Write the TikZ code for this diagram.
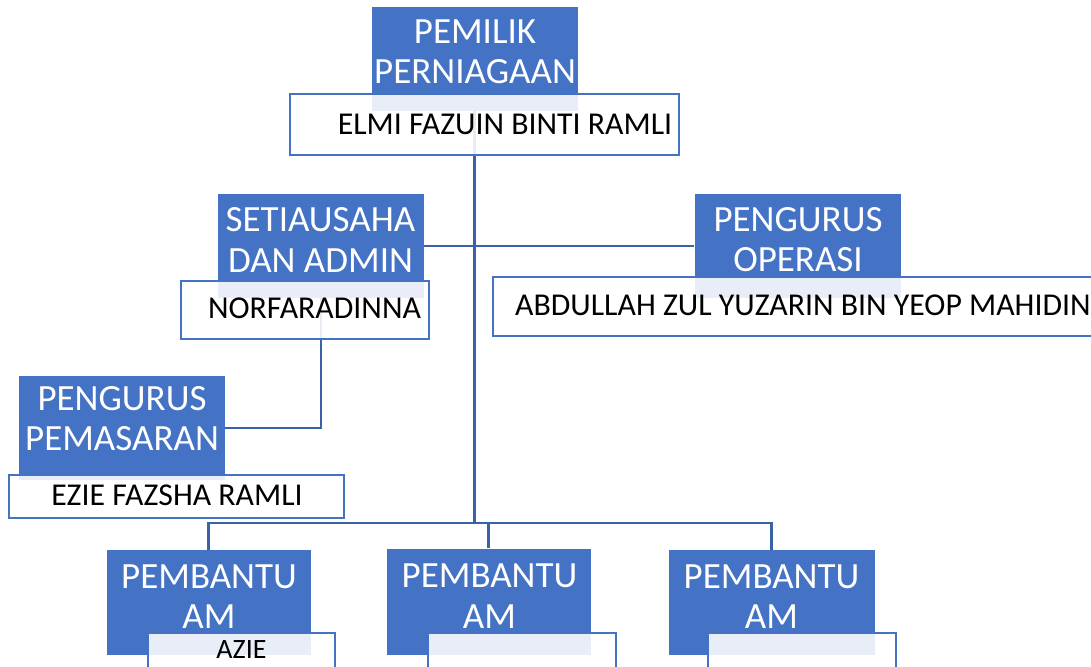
\documentclass[tikz,border=0pt]{standalone}
\usepackage{fontspec}
\setmainfont{Carlito}
\definecolor{acc}{HTML}{4472C4}
\definecolor{lin}{HTML}{3A62A6}
\tikzset{
  bluebox/.style={fill=acc, draw=none, inner sep=0pt, minimum width=206pt, minimum height=104pt},
  namebox/.style={fill=white, fill opacity=0.88, draw=acc, line width=2pt, inner sep=0pt},
  conn/.style={draw=lin, line width=2.8pt},
  titletext/.style={text=white, align=center, inner sep=0pt, font=\fontsize{37}{40.5}\selectfont},
  nametext/.style={text=black, inner sep=0pt, anchor=base, font=\fontsize{31.8}{36}\selectfont},
}
\begin{document}
\begin{tikzpicture}[x=1pt,y=-1pt]
\useasboundingbox (0,0) rectangle (1091,666);
\clip (0,0) rectangle (1091,666);
\fill[white] (0,0) rectangle (1091,666);

% blue title boxes
\node[bluebox] (pemilik) at (474.5,59) {};
\node[bluebox] (setia) at (321,246) {};
\node[bluebox] (operasi) at (797.5,246) {};
\node[bluebox] (pemasaran) at (122,428) {};
\node[bluebox, minimum width=204pt, minimum height=105pt] (p1) at (208.5,602.5) {};
\node[bluebox, minimum width=204pt, minimum height=106pt] (p2) at (488.5,601.5) {};
\node[bluebox, minimum width=206pt, minimum height=105pt] (p3) at (771.5,602.5) {};

% connectors
\coordinate (busy) at (0,523);
\draw[conn] (pemilik.south) -- (pemilik.south |- busy);
\draw[conn] (setia.east) -- (operasi.west);
\draw[conn] (setia.south) -- (setia.south |- pemasaran.east) -- (pemasaran.east);
\draw[conn] (p1.north) -- (p1.north |- busy) -- (p3.north |- busy) -- (p3.north);
\draw[conn] (p2.north) -- (p2.north |- busy);

% white name boxes
\node[namebox, minimum width=389pt, minimum height=61pt] (elmi) at (484.5,124.5) {};
\node[namebox, minimum width=248pt, minimum height=58pt] (norfa) at (305,310) {};
\node[namebox, minimum width=630pt, minimum height=59pt] (abdullah) at (808,306.5) {};
\node[namebox, minimum width=335pt, minimum height=43pt] (ezie) at (176.5,496.5) {};
\node[namebox, minimum width=187pt, minimum height=60pt] (n1) at (241.5,663) {};
\node[namebox, minimum width=188pt, minimum height=60pt] (n2) at (521.5,663) {};
\node[namebox, minimum width=188pt, minimum height=60pt] (n3) at (802,663) {};

% title texts
\node[titletext] (pemilik-t) at (475,52) {PEMILIK\\PERNIAGAAN};
\node[titletext] (setia-t) at (320.5,240) {SETIAUSAHA\\DAN ADMIN};
\node[titletext] (operasi-t) at (798,239.5) {PENGURUS\\OPERASI};
\node[titletext] (pemasaran-t) at (122,418.5) {PENGURUS\\PEMASARAN};
\node[titletext] (p1-t) at (209,596.5) {PEMBANTU\\AM};
\node[titletext] (p2-t) at (489.5,596) {PEMBANTU\\AM};
\node[titletext] (p3-t) at (771.5,596.5) {PEMBANTU\\AM};

% name texts
\node[nametext] (elmi-t) at (505,134) {ELMI FAZUIN BINTI RAMLI};
\node[nametext] (norfa-t) at (314.5,318) {NORFARADINNA};
\node[nametext, anchor=base west] (abdullah-t) at (515,315) {ABDULLAH ZUL YUZARIN BIN YEOP MAHIDIN};
\node[nametext] (ezie-t) at (177,505) {EZIE FAZSHA RAMLI};
\node[nametext, font=\fontsize{28}{32}\selectfont] (azie-t) at (241.5,658) {AZIE};
\end{tikzpicture}
\end{document}
